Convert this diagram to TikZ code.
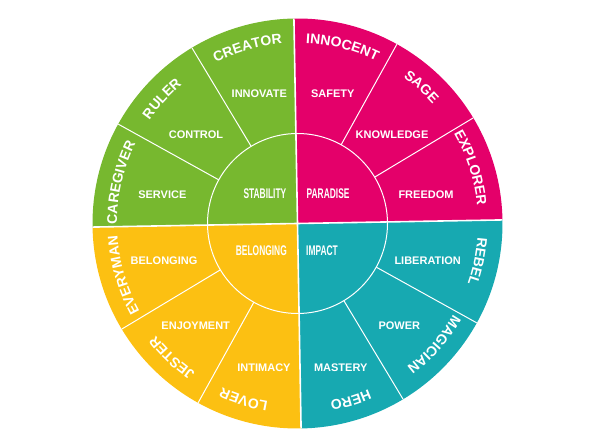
\documentclass[tikz,border=0pt]{standalone}
\usepackage{fontspec}
\setmainfont{Liberation Sans}
\newfontfamily\condfont[FakeStretch=0.6]{Liberation Sans Bold}
\usetikzlibrary{decorations.text}
\definecolor{cgreen}{HTML}{77B82F}
\definecolor{cpink}{HTML}{E4006A}
\definecolor{cteal}{HTML}{17A9B1}
\definecolor{cyellow}{HTML}{FCC012}
\newcommand\outerfnt{\bfseries\fontsize{14}{14}\selectfont}
\begin{document}
\begin{tikzpicture}[x=1pt,y=1pt,
  core/.style={text=white,font=\condfont\fontsize{14}{14}\selectfont,inner sep=0pt},
  mid/.style={text=white,font=\bfseries\fontsize{11}{11}\selectfont,inner sep=0pt},
  outertext/.style={decorate,decoration={text along path,text={|\outerfnt|#1},
      text align=center,text color=white}},
  divline/.style={draw=white,line width=1pt},
  axisline/.style={draw=white,line width=1.6pt}]
\useasboundingbox (0,0) rectangle (606,447);
\coordinate (c) at (297.5,223.5);
% quadrants
\fill[cgreen]  (c) -- ++(91:205)  arc[start angle=91, end angle=181,radius=205] -- cycle;
\fill[cpink]   (c) -- ++(1:205)   arc[start angle=1,  end angle=91, radius=205] -- cycle;
\fill[cteal]   (c) -- ++(-89:205) arc[start angle=-89,end angle=1,  radius=205] -- cycle;
\fill[cyellow] (c) -- ++(181:205) arc[start angle=181,end angle=271,radius=205] -- cycle;
% sector dividers
\foreach \a in {31,61,121,151,211,241,301,331}
  \draw[divline] (c) ++(\a:90) -- ++(\a:115);
\draw[divline] (c) circle[radius=90];
\draw[axisline] (c) ++(91:205) -- ++(271:410);
\draw[axisline] (c) ++(1:205) -- ++(181:410);
% core labels
\node[core,anchor=east] (stability)  at (286.5,253.5) {STABILITY};
\node[core,anchor=west] (paradise)   at (306.5,253.5) {PARADISE};
\node[core,anchor=east] (belongcore) at (287,196.3) {BELONGING};
\node[core,anchor=west] (impact)     at (306,196.3) {IMPACT};
% middle labels
\node[mid] (innovate)   at (259.3,353) {INNOVATE};
\node[mid] (safety)     at (332.7,353) {SAFETY};
\node[mid] (control)    at (196,312) {CONTROL};
\node[mid] (knowledge)  at (392,312) {KNOWLEDGE};
\node[mid] (service)    at (162.3,252.7) {SERVICE};
\node[mid] (freedom)    at (426,252.7) {FREEDOM};
\node[mid] (belongmid)  at (164,186) {BELONGING};
\node[mid] (liberation) at (427.7,186) {LIBERATION};
\node[mid] (enjoyment)  at (195.7,121) {ENJOYMENT};
\node[mid] (power)      at (399.3,121) {POWER};
\node[mid] (intimacy)   at (264,79.7) {INTIMACY};
\node[mid] (mastery)    at (340.7,79.7) {MASTERY};
% outer labels, curved along the rim (clockwise, tops outward)
\foreach \ang/\txt in {105.9/CREATOR, 75.7/INNOCENT, 137.4/RULER, 47.8/SAGE,
    167/CAREGIVER, 17.8/EXPLORER, 196.5/EVERYMAN, 348.1/REBEL,
    226.9/JESTER, 318.5/MAGICIAN, 253/LOVER, 286.8/HERO}
  \path[outertext/.expanded=\txt] (c) ++(\ang+40:180.5)
    arc[start angle=\ang+40,end angle=\ang-40,radius=180.5];
\end{tikzpicture}
\end{document}
